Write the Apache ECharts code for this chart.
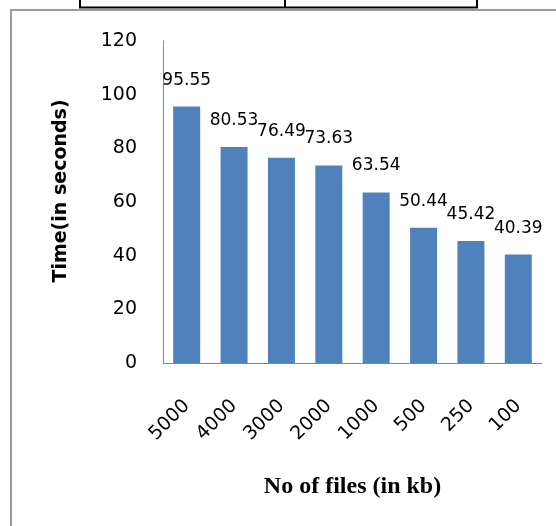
<!DOCTYPE html>
<html>
<head>
<meta charset="utf-8">
<script src="https://cdn.jsdelivr.net/npm/echarts@6/dist/echarts.min.js"></script>
<style>
  html, body { margin: 0; padding: 0; background: #fff; }
  #chart { width: 556px; height: 526px; }
</style>
</head>
<body>
<div id="chart"></div>
<script>
const fileSizes = ["5000", "4000", "3000", "2000", "1000", "500", "250", "100"]
const times = [95.55, 80.53, 76.49, 73.63, 63.54, 50.44, 45.42, 40.39]

const chart = echarts.init(document.getElementById("chart"), null, { renderer: "canvas" })

const axisGrey = "#868686"

chart.setOption({
  animation: false,
  backgroundColor: "#fff",
  grid: { left: 163, right: 14, top: 41, bottom: 163 },
  // frame of the surrounding box and the table edge above it
  graphic: [
    { type: "rect", shape: { x: 11, y: 10, width: 600, height: 600 }, style: { fill: null, stroke: "#9a9a9a", lineWidth: 2 } },
    { type: "line", shape: { x1: 79, y1: 7.5, x2: 478, y2: 7.5 }, style: { stroke: "#000", lineWidth: 2 } },
    { type: "line", shape: { x1: 80, y1: 0, x2: 80, y2: 8 }, style: { stroke: "#000", lineWidth: 2 } },
    { type: "line", shape: { x1: 285, y1: 0, x2: 285, y2: 8 }, style: { stroke: "#000", lineWidth: 2 } },
    { type: "line", shape: { x1: 477, y1: 0, x2: 477, y2: 8 }, style: { stroke: "#000", lineWidth: 2 } },
  ],
  xAxis: {
    type: "category",
    data: fileSizes,
    axisLine: { lineStyle: { color: axisGrey, width: 1 } },
    axisTick: { show: false },
    axisLabel: {
      rotate: 45,
      margin: 40,
      color: "#000",
      fontFamily: "DejaVu Sans",
      fontSize: 19,
    },
    name: "No of files (in kb)",
    nameLocation: "middle",
    nameGap: 112,
    nameTextStyle: {
      fontFamily: "Liberation Serif",
      fontWeight: "bold",
      fontSize: 24,
      color: "#000",
      verticalAlign: "top",
    },
  },
  yAxis: {
    type: "value",
    min: 0,
    max: 120,
    interval: 20,
    splitLine: { show: false },
    axisLine: { show: true, lineStyle: { color: axisGrey, width: 1 } },
    axisTick: { show: false },
    axisLabel: {
      margin: 26,
      color: "#000",
      fontFamily: "DejaVu Sans",
      fontSize: 19,
    },
    name: "Time(in seconds)",
    nameLocation: "middle",
    nameGap: 92,
    nameTextStyle: {
      fontFamily: "DejaVu Sans",
      fontWeight: "bold",
      fontSize: 19,
      color: "#000",
      padding: [0, 0, 0, 22],
    },
  },
  series: [
    {
      type: "bar",
      data: times,
      barCategoryGap: "43%",
      itemStyle: { color: "#4F81BD" },
      label: {
        show: true,
        position: "top",
        distance: 18,
        color: "#000",
        fontFamily: "DejaVu Sans",
        fontSize: 17,
        formatter: (p) => p.value.toFixed(2),
      },
    },
  ],
})
</script>
</body>
</html>
